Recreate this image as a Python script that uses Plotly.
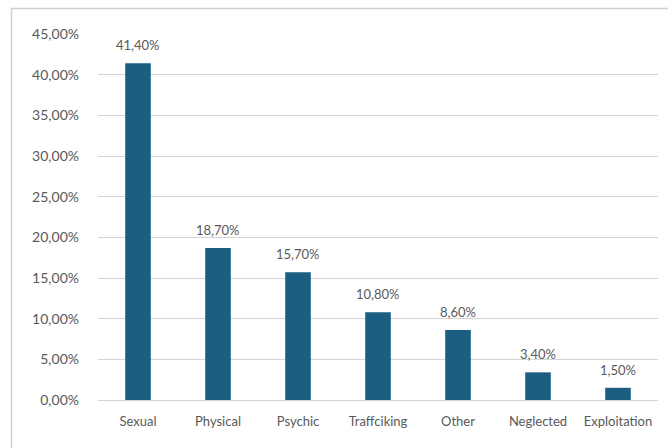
import plotly.graph_objects as go

categories = ["Sexual", "Physical", "Psychic", "Traffciking", "Other", "Neglected", "Exploitation"]
shares = [41.40, 18.70, 15.70, 10.80, 8.60, 3.40, 1.50]
y_ticks = [0, 5, 10, 15, 20, 25, 30, 35, 40, 45]

W, H = 668, 448
L, R, T, B = 98, 10, 34, 48

BAR = "#1B5E82"
TXT = "#595959"
GRID = "#D4D4D4"
FONT = "Lato"


def pct(v):
    return f"{v:.2f}".replace(".", ",") + "%"


fig = go.Figure(
    go.Bar(
        x=categories,
        y=shares,
        marker=dict(color=BAR, line=dict(width=0)),
        width=0.32,
        hoverinfo="x+y",
    )
)

for c, v in zip(categories, shares):
    fig.add_annotation(
        x=c, y=v, text=pct(v), showarrow=False,
        yanchor="middle", yshift=18,
        font=dict(family=FONT, size=13, color=TXT),
    )

# outer chart frame
fig.add_shape(
    type="rect", xref="paper", yref="paper",
    x0=(11.5 - L) / (W - L - R), x1=(W + 5 - L) / (W - L - R),
    y0=-(H + 5 - (H - B)) / (H - T - B), y1=(H - B - 8.5) / (H - T - B),
    line=dict(color="#D0D0D0", width=1.5), fillcolor="rgba(0,0,0,0)",
    layer="below",
)

fig.update_layout(
    width=W, height=H,
    margin=dict(l=L, r=R, t=T, b=B),
    paper_bgcolor="white", plot_bgcolor="white",
    showlegend=False,
    font=dict(family=FONT, size=13, color=TXT),
    xaxis=dict(
        showgrid=False, showline=False, ticks="",
        ticklabelstandoff=12,
        tickfont=dict(family=FONT, size=13, color=TXT),
        fixedrange=True,
    ),
    yaxis=dict(
        range=[0, 45],
        tickvals=y_ticks,
        ticktext=[pct(t) for t in y_ticks],
        showgrid=True, gridcolor=GRID, gridwidth=1,
        zeroline=True, zerolinecolor=GRID, zerolinewidth=1,
        showline=False, ticks="", ticklen=0,
        ticklabelstandoff=18,
        tickfont=dict(family=FONT, size=14, color=TXT),
        fixedrange=True,
    ),
)

fig.write_html("out.html")
